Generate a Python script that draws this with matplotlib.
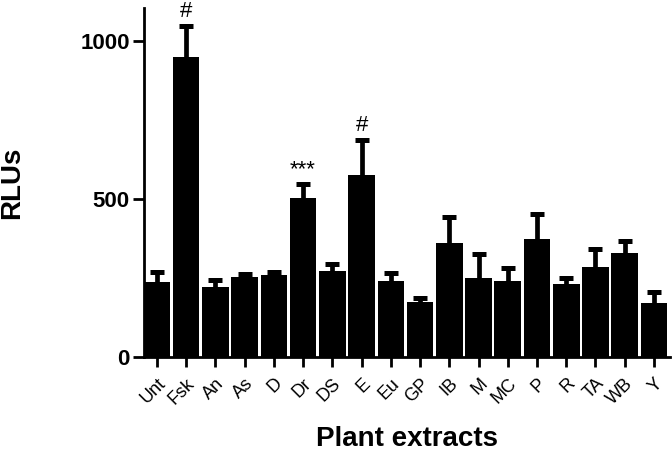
import matplotlib
matplotlib.use('Agg')
from matplotlib import pyplot as plt

plt.rcParams['font.family'] = ['Liberation Sans', 'DejaVu Sans']

# data
categories = ['Unt', 'Fsk', 'An', 'As', 'D', 'Dr', 'DS', 'E', 'Eu', 'GP',
              'IB', 'M', 'MC', 'P', 'R', 'TA', 'WB', 'Y']
means = [238, 950, 221, 252, 260, 505, 271, 578, 241, 174,
         361, 249, 241, 373, 231, 284, 330, 170]
errors = [32, 98, 23, 11, 9, 42, 24, 109, 26, 14,
          83, 76, 42, 79, 19, 57, 38, 37]
marks = {'Fsk': '#', 'Dr': '***', 'E': '#'}

fig = plt.figure(figsize=(6.72, 4.51), dpi=100)
ax = fig.add_axes([0.214, 0.2084, 0.783, 0.7736])

x = list(range(len(categories)))
tops = [m + e for m, e in zip(means, errors)]
ax.bar(x, means, width=0.91, color='black', linewidth=0, zorder=2)
# upper error bars only: stem plus cap
ax.vlines(x, means, tops, colors='black', linewidth=3.4, zorder=1)
ax.plot(x, tops, linestyle='none', marker='_', markersize=9.5,
        markeredgewidth=3.6, color='black', zorder=1)

for i, name in enumerate(categories):
    if name in marks:
        ax.text(i, tops[i] + 12, marks[name], ha='center',
                va='bottom', fontsize=16)

ax.set_xlim(-0.45, 17.55)
ax.set_ylim(0, 1105)
ax.set_yticks([0, 500, 1000])
ax.set_xticks(x)
ax.set_xticklabels(categories, rotation=45, ha='right', va='top',
                   rotation_mode='anchor', fontsize=13)
ax.tick_params(axis='y', length=8, width=2, labelsize=16, pad=2)
ax.tick_params(axis='x', length=7, width=2, pad=6)
for lbl in ax.get_yticklabels():
    lbl.set_fontweight('bold')

for side in ['top', 'right']:
    ax.spines[side].set_visible(False)
for side in ['left', 'bottom']:
    ax.spines[side].set_linewidth(2)

ax.set_ylabel('RLUs', fontsize=20, fontweight='bold', labelpad=40)
ax.set_xlabel('Plant extracts', fontsize=20, fontweight='bold', labelpad=13)

fig.savefig('out.png', dpi=100)
